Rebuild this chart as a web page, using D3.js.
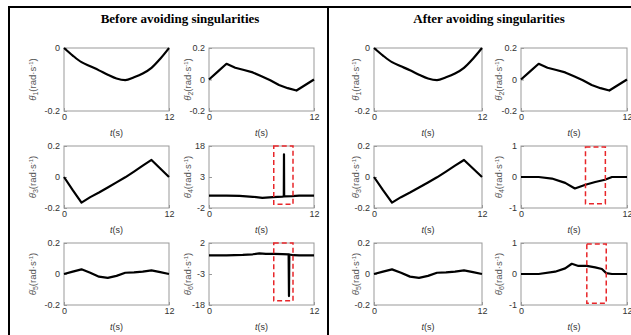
<!DOCTYPE html>
<html>
<head>
<meta charset="utf-8">
<script src="https://cdn.jsdelivr.net/npm/d3@7"></script>
<style>
  body { margin: 0; background: #fff; }
  svg { display: block; }
  .tick text { font-family: "Liberation Sans", Arial, sans-serif; font-size: 9px; fill: #333; }
  .tick line { stroke: #999; }
</style>
</head>
<body>
<div id="chart"></div>
<script>
// ---- data ----
var titles = ["Before avoiding singularities", "After avoiding singularities"];

var tGrid = [0, 1, 2, 3, 4, 5, 6, 7, 8, 9, 10, 11, 12];
var omega1 = [0, -0.024, -0.045, -0.058, -0.071, -0.085, -0.097, -0.102, -0.093, -0.081, -0.063, -0.034, 0];
var omega2 = [0, 0.05, 0.1, 0.075, 0.06, 0.045, 0.02, -0.005, -0.035, -0.055, -0.07, -0.035, 0];
var omega3 = [0, -0.085, -0.165, -0.13, -0.1, -0.068, -0.035, -0.002, 0.035, 0.073, 0.11, 0.055, 0];
var omega5 = [0, 0.015, 0.03, 0.008, -0.017, -0.025, -0.012, 0.008, 0.01, 0.015, 0.023, 0.012, 0];

// joint 4, before (with singular spike) and after
var tBefore4 = [0, 2, 3.5, 5, 6.1, 7.3, 8.4, 8.55, 8.57, 8.59, 9.5, 10.3, 12];
var omegaBefore4 = [0, 0, -0.05, -0.19, -0.37, -0.25, -0.16, -0.14, 14, -0.13, -0.09, 0, 0];
var tAfter4 = [0, 2, 3.5, 5, 6.1, 7.3, 8.4, 9.5, 10.3, 12];
var omegaAfter4 = [0, 0, -0.05, -0.19, -0.37, -0.25, -0.16, -0.09, 0, 0];

// joint 6, before (with singular spike) and after
var tBefore6 = [0, 2, 3.86, 5, 5.75, 6.5, 7.45, 8.4, 9.1, 9.14, 9.18, 9.65, 10.3, 12];
var omegaBefore6 = [0, 0, 0.075, 0.18, 0.33, 0.26, 0.26, 0.215, 0.17, -13.7, 0.15, 0.03, 0, 0];
var tAfter6 = [0, 2, 3.86, 5, 5.75, 6.5, 7.45, 8.4, 9.16, 9.65, 10.3, 12];
var omegaAfter6 = [0, 0, 0.075, 0.18, 0.33, 0.26, 0.26, 0.215, 0.16, 0.03, 0, 0];

// y axis domains / ticks
var ticksSmall = [0.2, 0, -0.2];
var ticksJ1 = [0, -0.2];
var ticksBefore4 = [18, 3, -2];
var ticksBefore6 = [2, -3, -18];
var ticksAfter = [1, 0, -1];
var xTicks = [0, 12];

// highlighted windows [t0, t1, y0, y1]
var boxBefore4 = [7.4, 9.6, -1.4, 18];
var boxBefore6 = [7.4, 9.6, -16, 2];
var boxAfter4 = [7.3, 9.55, -0.86, 0.97];
var boxAfter6 = [7.45, 9.65, -0.94, 0.97];

// ---- layout ----
var width = 631, height = 335;
var cols = [[64, 169], [209, 314], [374, 482], [521, 627]];
var rows = [[48, 111], [146, 208], [243, 305]];
var labelX = [33, 188, 356, 499];

var panels = [
  {c: 0, r: 0, t: tGrid, v: omega1, dom: [-0.2, 0], ticks: ticksJ1, sub: "1", smooth: true},
  {c: 1, r: 0, t: tGrid, v: omega2, dom: [-0.2, 0.2], ticks: ticksSmall, sub: "2"},
  {c: 0, r: 1, t: tGrid, v: omega3, dom: [-0.2, 0.2], ticks: ticksSmall, sub: "3"},
  {c: 1, r: 1, t: tBefore4, v: omegaBefore4, dom: [-2, 3, 18], ticks: ticksBefore4, sub: "4", box: boxBefore4},
  {c: 0, r: 2, t: tGrid, v: omega5, dom: [-0.2, 0.2], ticks: ticksSmall, sub: "5"},
  {c: 1, r: 2, t: tBefore6, v: omegaBefore6, dom: [-18, -3, 2], ticks: ticksBefore6, sub: "6", box: boxBefore6},

  {c: 2, r: 0, t: tGrid, v: omega1, dom: [-0.2, 0], ticks: ticksJ1, sub: "1", smooth: true},
  {c: 3, r: 0, t: tGrid, v: omega2, dom: [-0.2, 0.2], ticks: ticksSmall, sub: "2"},
  {c: 2, r: 1, t: tGrid, v: omega3, dom: [-0.2, 0.2], ticks: ticksSmall, sub: "3"},
  {c: 3, r: 1, t: tAfter4, v: omegaAfter4, dom: [-1, 1], ticks: ticksAfter, sub: "4", box: boxAfter4},
  {c: 2, r: 2, t: tGrid, v: omega5, dom: [-0.2, 0.2], ticks: ticksSmall, sub: "5"},
  {c: 3, r: 2, t: tAfter6, v: omegaAfter6, dom: [-1, 1], ticks: ticksAfter, sub: "6", box: boxAfter6}
];

var svg = d3.select("#chart").append("svg")
    .attr("width", width)
    .attr("height", height);

// frame
svg.append("path")
    .attr("d", "M9,335V7H640M328,7V335")
    .attr("fill", "none")
    .attr("stroke", "#000")
    .attr("stroke-width", 2);

// titles
svg.selectAll("text.title")
    .data(titles)
    .enter().append("text")
    .attr("class", "title")
    .attr("x", function(d, i) { return i === 0 ? 180 : 489; })
    .attr("y", 23)
    .attr("text-anchor", "middle")
    .style("font-family", "'Liberation Serif', 'Times New Roman', serif")
    .style("font-weight", "bold")
    .style("font-size", "13px")
    .text(function(d) { return d; });

panels.forEach(function(p) {
  var x0 = cols[p.c][0], x1 = cols[p.c][1];
  var y0 = rows[p.r][0], y1 = rows[p.r][1];
  var n = p.dom.length - 1;

  var x = d3.scaleLinear().domain([0, 12]).range([x0, x1]);
  var y = d3.scaleLinear().domain(p.dom)
      .range(p.dom.map(function(d, i) { return y1 - i * (y1 - y0) / n; }));

  var g = svg.append("g");

  // box
  g.append("rect")
      .attr("x", x0).attr("y", y0)
      .attr("width", x1 - x0).attr("height", y1 - y0)
      .attr("fill", "#fff")
      .attr("stroke", "#999")
      .attr("stroke-width", 1);

  // axes
  g.append("g")
      .attr("transform", "translate(" + x0 + ",0)")
      .call(d3.axisLeft(y).tickValues(p.ticks).tickSizeInner(-3).tickSizeOuter(0).tickPadding(4)
            .tickFormat(function(d) { return String(d); }))
      .call(function(a) { a.select(".domain").remove(); });

  g.append("g")
      .attr("transform", "translate(0," + y1 + ")")
      .call(d3.axisBottom(x).tickValues(xTicks).tickSizeInner(-3).tickSizeOuter(0).tickPadding(3))
      .call(function(a) { a.select(".domain").remove(); });

  // data line
  var line = d3.line()
      .curve(p.smooth ? d3.curveMonotoneX : d3.curveLinear)
      .x(function(d) { return x(d[0]); })
      .y(function(d) { return y(d[1]); });

  g.append("path")
      .datum(d3.zip(p.t, p.v))
      .attr("fill", "none")
      .attr("stroke", "#000")
      .attr("stroke-width", 2.2)
      .attr("stroke-linejoin", "round")
      .attr("d", line);

  // red dashed window
  if (p.box) {
    g.append("rect")
        .attr("x", x(p.box[0]))
        .attr("y", y(p.box[3]))
        .attr("width", x(p.box[1]) - x(p.box[0]))
        .attr("height", y(p.box[2]) - y(p.box[3]))
        .attr("fill", "none")
        .attr("stroke", "#e8262a")
        .attr("stroke-width", 1.5)
        .attr("stroke-dasharray", "5,3");
  }

  // x label
  var xl = g.append("text")
      .attr("x", (x0 + x1) / 2)
      .attr("y", y1 + 25)
      .attr("text-anchor", "middle")
      .style("font-family", "'Liberation Sans', Arial, sans-serif")
      .style("font-size", "9px")
      .style("fill", "#333");
  xl.append("tspan").style("font-style", "italic").text("t");
  xl.append("tspan").text("(s)");

  // y label
  var cy = (y0 + y1) / 2;
  var yl = g.append("text")
      .attr("transform", "translate(" + labelX[p.c] + "," + cy + ") rotate(-90)")
      .attr("text-anchor", "middle")
      .attr("dy", "0.35em")
      .style("font-family", "'Liberation Sans', Arial, sans-serif")
      .style("font-size", "9.5px")
      .style("fill", "#555");
  yl.append("tspan").style("font-style", "italic").text("\u03b8\u0307");
  yl.append("tspan").attr("dy", 2).style("font-size", "7px").text(p.sub);
  yl.append("tspan").attr("dy", -2).text("(rad\u00b7s");
  yl.append("tspan").attr("dy", -3).style("font-size", "6px").text("-1");
  yl.append("tspan").attr("dy", 3).text(")");
});
</script>
</body>
</html>
